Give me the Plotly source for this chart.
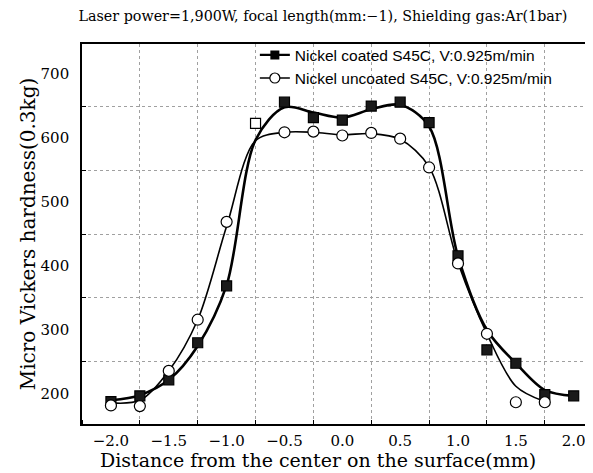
import plotly.graph_objects as go

# Data
distance_mm = [-2.0, -1.75, -1.5, -1.25, -1.0, -0.75, -0.5, -0.25, 0.0, 0.25, 0.5, 0.75, 1.0, 1.25, 1.5, 1.75, 2.0]
coated_hv = [188, 197, 222, 280, 369, 623, 656, 632, 628, 650, 656, 624, 416, 269, 248, 199, 197]
coated_curve = [190, 198, 222, 275, 370, 597, 648, 640, 632, 645, 652, 618, 415, 300, 248, 206, 197]

distance_uncoated = [-2.0, -1.75, -1.5, -1.25, -1.0, -0.5, -0.25, 0.0, 0.25, 0.5, 0.75, 1.0, 1.25, 1.5, 1.75]
uncoated_hv = [182, 181, 236, 316, 469, 609, 610, 604, 608, 599, 554, 404, 294, 187, 187]
curve_x_uncoated = [-2.0, -1.75, -1.5, -1.25, -1.0, -0.75, -0.5, -0.25, 0.0, 0.25, 0.5, 0.75, 1.0, 1.25, 1.5, 1.75]
uncoated_curve = [186, 190, 236, 316, 462, 596, 609, 609, 605, 607, 598, 555, 405, 294, 212, 188]

x_ticks = [-2.0, -1.5, -1.0, -0.5, 0.0, 0.5, 1.0, 1.5, 2.0]
x_tick_labels = ["\u22122.0", "\u22121.5", "\u22121.0", "\u22120.5", "0.0", "0.5", "1.0", "1.5", "2.0"]
y_ticks = [200, 300, 400, 500, 600, 700]

title_text = "Laser power=1,900W, focal length(mm:\u22121), Shielding gas:Ar(1bar)"
x_title = "Distance from the center on the surface(mm)"
y_title = "Micro Vickers hardness(0.3kg)"
coated_name = "Nickel coated S45C, V:0.925m/min"
uncoated_name = "Nickel uncoated S45C, V:0.925m/min"

# per-point fill of coated markers (one printed hollow in the reference)
coated_fill = ["#1a1a1a"] * len(distance_mm)
coated_fill[5] = "white"

serif = "DejaVu Serif, Liberation Serif, serif"
sans = "Liberation Sans, Arial, sans-serif"

fig = go.Figure()

# smooth curves
fig.add_trace(go.Scatter(x=distance_mm, y=coated_curve, mode="lines",
                         line=dict(color="black", width=2.6, shape="spline", smoothing=0.9),
                         showlegend=False, hoverinfo="skip"))
fig.add_trace(go.Scatter(x=curve_x_uncoated, y=uncoated_curve, mode="lines",
                         line=dict(color="black", width=1.6, shape="spline", smoothing=0.9),
                         showlegend=False, hoverinfo="skip"))

# markers
fig.add_trace(go.Scatter(x=distance_mm, y=coated_hv, mode="markers",
                         marker=dict(symbol="square", size=10, color=coated_fill,
                                     line=dict(color="black", width=1.2)),
                         showlegend=False))
fig.add_trace(go.Scatter(x=distance_uncoated, y=uncoated_hv, mode="markers",
                         marker=dict(symbol="circle", size=11, color="white",
                                     line=dict(color="black", width=1.2)),
                         showlegend=False))

# legend entries
fig.add_trace(go.Scatter(x=[None], y=[None], mode="lines+markers", name=coated_name,
                         line=dict(color="black", width=2.2),
                         marker=dict(symbol="square", size=9, color="black")))
fig.add_trace(go.Scatter(x=[None], y=[None], mode="lines+markers", name=uncoated_name,
                         line=dict(color="black", width=1.4),
                         marker=dict(symbol="circle", size=10, color="white",
                                     line=dict(color="black", width=1.2))))

fig.update_layout(
    width=593, height=473,
    margin=dict(l=74, r=3, t=36, b=57),
    paper_bgcolor="white", plot_bgcolor="white",
    title=dict(text=title_text, x=0.531, xanchor="center", y=0.993, yanchor="top",
               font=dict(family=serif, size=14.3, color="black")),
    legend=dict(x=0.335, y=1.015, xanchor="left", yanchor="top",
                bgcolor="rgba(255,255,255,0)", borderwidth=0,
                font=dict(family=sans, size=15.5, color="black"),
                tracegroupgap=0, itemwidth=30),
    showlegend=True,
    annotations=[dict(text=x_title, xref="paper", yref="paper", x=0.457, y=0,
                      xanchor="center", yanchor="middle", yshift=-36, showarrow=False,
                      font=dict(family=serif, size=19, color="black"))],
)

fig.update_xaxes(
    range=[-2.25, 2.21], tickmode="array", tickvals=x_ticks, ticktext=x_tick_labels,
    ticks="", showgrid=False, zeroline=False, automargin=False,
    showline=True, linecolor="black", linewidth=1.6, mirror=True,
    tickfont=dict(family=serif, size=15, color="black"), ticklabelstandoff=2,
    minor=dict(tick0=-1.75, dtick=0.5, ticks="inside", ticklen=4, tickcolor="black",
               showgrid=True, gridcolor="#a0a0a0", gridwidth=1, griddash="dot"),
)
fig.update_yaxes(
    range=[153, 747], tickmode="array", tickvals=y_ticks,
    ticks="", showgrid=False, zeroline=False, automargin=False,
    showline=True, linecolor="black", linewidth=1.6, mirror=True,
    tickfont=dict(family=serif, size=15, color="black"), ticklabelstandoff=8,
    title=dict(text=y_title, font=dict(family=serif, size=20, color="black"), standoff=0),
    minor=dict(tick0=250, dtick=100, ticks="inside", ticklen=4, tickcolor="black",
               showgrid=True, gridcolor="#a0a0a0", gridwidth=1, griddash="dot"),
)

fig.write_html("out.html")
